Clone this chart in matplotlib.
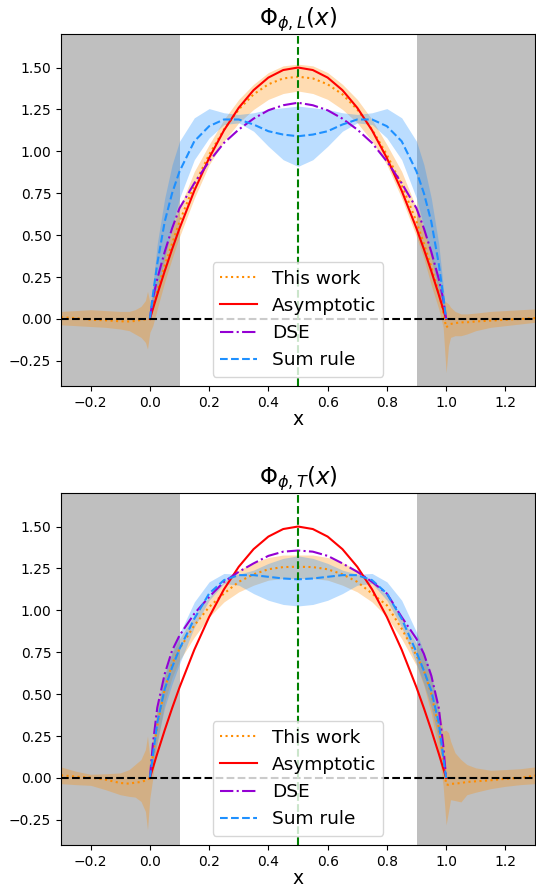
import numpy as np
import matplotlib.pyplot as plt

# grid for the models inside [0, 1]
x_in = [0, 0.01, 0.025, 0.05, 0.075, 0.1, 0.15, 0.2, 0.25, 0.3, 0.35, 0.4, 0.45, 0.5,
        0.55, 0.6, 0.65, 0.7, 0.75, 0.8, 0.85, 0.9, 0.925, 0.95, 0.975, 0.99, 1.0]
# extra points for "This work" outside [0, 1]
x_left = [-0.3, -0.25, -0.2, -0.15, -0.1, -0.07, -0.05, -0.03, -0.015, -0.008]
x_right = [1.008, 1.015, 1.03, 1.05, 1.07, 1.1, 1.15, 1.2, 1.25, 1.3]

asym = [0, 0.059, 0.146, 0.285, 0.416, 0.54, 0.765, 0.96, 1.125, 1.26, 1.365, 1.44, 1.485, 1.5,
        1.485, 1.44, 1.365, 1.26, 1.125, 0.96, 0.765, 0.54, 0.416, 0.285, 0.146, 0.059, 0]

# ---- longitudinal (L) ----
dse_L = [0, 0.12, 0.24, 0.40, 0.54, 0.66, 0.81, 0.94, 1.05, 1.13, 1.195, 1.245, 1.275, 1.29,
         1.275, 1.245, 1.195, 1.13, 1.05, 0.94, 0.81, 0.66, 0.54, 0.40, 0.24, 0.12, 0]
sr_L = [0, 0.14, 0.33, 0.58, 0.75, 0.88, 1.06, 1.15, 1.19, 1.19, 1.16, 1.12, 1.10, 1.09,
        1.10, 1.12, 1.16, 1.19, 1.19, 1.15, 1.06, 0.88, 0.75, 0.58, 0.33, 0.14, 0]
sr_L_lo = [0, 0.06, 0.16, 0.36, 0.55, 0.72, 0.95, 1.08, 1.16, 1.17, 1.12, 1.03, 0.95, 0.91,
           0.95, 1.03, 1.12, 1.17, 1.16, 1.08, 0.95, 0.72, 0.55, 0.36, 0.16, 0.06, 0]
sr_L_hi = [0, 0.2, 0.45, 0.72, 0.92, 1.06, 1.2, 1.255, 1.23, 1.22, 1.23, 1.25, 1.26, 1.27,
           1.26, 1.25, 1.23, 1.22, 1.23, 1.255, 1.2, 1.06, 0.92, 0.72, 0.45, 0.2, 0]

tw_L = ([0.01, 0.005, -0.005, -0.008, -0.014, -0.015, -0.012, -0.006, -0.002, 0.0]
        + [0, 0.07, 0.17, 0.32, 0.45, 0.58, 0.80, 0.98, 1.13, 1.25, 1.34, 1.40, 1.435, 1.445,
           1.435, 1.40, 1.34, 1.25, 1.13, 0.98, 0.80, 0.58, 0.45, 0.31, 0.16, 0.04, -0.05]
        + [-0.04, -0.03, -0.025, -0.02, -0.02, -0.015, -0.01, -0.005, 0.0, 0.005])
tw_L_lo = ([-0.035, -0.04, -0.045, -0.05, -0.06, -0.07, -0.09, -0.11, -0.14, -0.18]
           + [-0.08, -0.04, 0.06, 0.22, 0.36, 0.49, 0.72, 0.92, 1.06, 1.17, 1.25, 1.31, 1.345, 1.36,
              1.345, 1.31, 1.25, 1.17, 1.06, 0.92, 0.72, 0.49, 0.36, 0.2, 0.06, -0.05, -0.32]
           + [-0.16, -0.11, -0.1, -0.1, -0.09, -0.07, -0.05, -0.04, -0.03, -0.02])
tw_L_hi = ([0.045, 0.05, 0.055, 0.05, 0.045, 0.045, 0.055, 0.075, 0.11, 0.165]
           + [0.10, 0.14, 0.26, 0.40, 0.53, 0.66, 0.88, 1.04, 1.19, 1.31, 1.40, 1.47, 1.51, 1.52,
              1.51, 1.47, 1.40, 1.31, 1.19, 1.04, 0.88, 0.66, 0.53, 0.40, 0.24, 0.12, 0.10]
           + [0.09, 0.07, 0.045, 0.03, 0.03, 0.035, 0.045, 0.05, 0.055, 0.06])

# ---- transverse (T) ----
dse_T = [0, 0.2, 0.42, 0.62, 0.76, 0.85, 0.98, 1.08, 1.17, 1.23, 1.28, 1.325, 1.35, 1.357,
         1.35, 1.325, 1.28, 1.23, 1.17, 1.10, 0.96, 0.83, 0.74, 0.61, 0.42, 0.2, 0]
sr_T = [0, 0.13, 0.33, 0.53, 0.66, 0.77, 0.95, 1.10, 1.18, 1.21, 1.21, 1.2, 1.19, 1.185,
        1.19, 1.2, 1.21, 1.21, 1.18, 1.10, 0.95, 0.75, 0.64, 0.52, 0.33, 0.13, 0]
sr_T_lo = [0, 0.08, 0.22, 0.42, 0.56, 0.68, 0.9, 1.06, 1.16, 1.15, 1.1, 1.06, 1.035, 1.026,
           1.035, 1.06, 1.1, 1.15, 1.16, 1.06, 0.9, 0.68, 0.56, 0.42, 0.22, 0.08, 0]
sr_T_hi = [0, 0.17, 0.4, 0.62, 0.75, 0.86, 1.05, 1.17, 1.22, 1.215, 1.24, 1.28, 1.31, 1.325,
           1.31, 1.28, 1.24, 1.215, 1.22, 1.17, 1.06, 0.87, 0.75, 0.62, 0.4, 0.17, 0]

tw_T = ([0.016, 0.008, 0.002, -0.01, -0.03, -0.034, -0.028, -0.024, -0.015, -0.01]
        + [0, 0.13, 0.31, 0.53, 0.68, 0.77, 0.91, 1.02, 1.10, 1.17, 1.215, 1.245, 1.258, 1.26,
           1.258, 1.245, 1.215, 1.17, 1.10, 1.03, 0.89, 0.73, 0.64, 0.5, 0.3, 0.12, -0.04]
        + [-0.04, -0.035, -0.034, -0.03, -0.024, -0.02, -0.014, -0.005, 0.0, 0.014])
tw_T_lo = ([-0.034, -0.04, -0.044, -0.07, -0.1, -0.11, -0.114, -0.14, -0.2, -0.31]
           + [-0.12, 0, 0.2, 0.45, 0.6, 0.7, 0.84, 0.96, 1.05, 1.11, 1.15, 1.18, 1.19, 1.19,
              1.19, 1.18, 1.15, 1.11, 1.05, 0.96, 0.83, 0.67, 0.55, 0.38, 0.15, -0.05, -0.28]
           + [-0.2, -0.13, -0.135, -0.143, -0.1, -0.085, -0.064, -0.05, -0.04, -0.034])
tw_T_hi = ([0.066, 0.04, 0.022, 0.025, 0.03, 0.05, 0.08, 0.11, 0.17, 0.25]
           + [0.12, 0.24, 0.42, 0.6, 0.74, 0.83, 0.97, 1.08, 1.17, 1.24, 1.285, 1.315, 1.33, 1.33,
              1.33, 1.315, 1.285, 1.24, 1.17, 1.09, 0.96, 0.8, 0.72, 0.6, 0.42, 0.28, 0.285]
           + [0.27, 0.22, 0.15, 0.11, 0.08, 0.06, 0.046, 0.05, 0.055, 0.066])

x_tw = x_left + x_in + x_right

panels = [
    (r'$\Phi_{\phi,L}(x)$', tw_L, tw_L_lo, tw_L_hi, dse_L, sr_L, sr_L_lo, sr_L_hi),
    (r'$\Phi_{\phi,T}(x)$', tw_T, tw_T_lo, tw_T_hi, dse_T, sr_T, sr_T_lo, sr_T_hi),
]

fig = plt.figure(figsize=(5.36, 8.88), dpi=100)
bottoms = [(888 - 386) / 888, (888 - 845) / 888]

for (title, tw, tw_lo, tw_hi, dse, sr, sr_lo, sr_hi), b in zip(panels, bottoms):
    ax = fig.add_axes([61 / 536, b, 474 / 536, 352 / 888])
    ax.axvspan(-0.3, 0.1, color='gray', alpha=0.5, lw=0)
    ax.axvspan(0.9, 1.3, color='gray', alpha=0.5, lw=0)

    ax.fill_between(x_tw, tw_lo, tw_hi, color='darkorange', alpha=0.3, lw=0)
    ax.fill_between(x_in, sr_lo, sr_hi, color='dodgerblue', alpha=0.3, lw=0)

    ax.plot(x_tw, tw, ':', color='darkorange', lw=1.5, label='This work')
    ax.plot(x_in, asym, '-', color='red', lw=1.5, label='Asymptotic')
    ax.plot(x_in, dse, '-.', color='darkviolet', lw=1.5, label='DSE')
    ax.plot(x_in, sr, '--', color='dodgerblue', lw=1.5, label='Sum rule')

    ax.axhline(0, color='black', ls='--', lw=1.5)
    ax.axvline(0.5, color='green', ls='--', lw=1.5)

    ax.set_xlim(-0.3, 1.3)
    ax.set_ylim(-0.4, 1.7)
    ax.set_xticks([-0.2, 0.0, 0.2, 0.4, 0.6, 0.8, 1.0, 1.2])
    ax.set_yticks([-0.25, 0.0, 0.25, 0.5, 0.75, 1.0, 1.25, 1.5])
    ax.set_title(title, fontsize=16.5, pad=5)
    ax.set_xlabel('x', fontsize=13.5, labelpad=0)
    ax.legend(loc='lower center', fontsize=13.3)

fig.savefig('out.png', dpi=100)
